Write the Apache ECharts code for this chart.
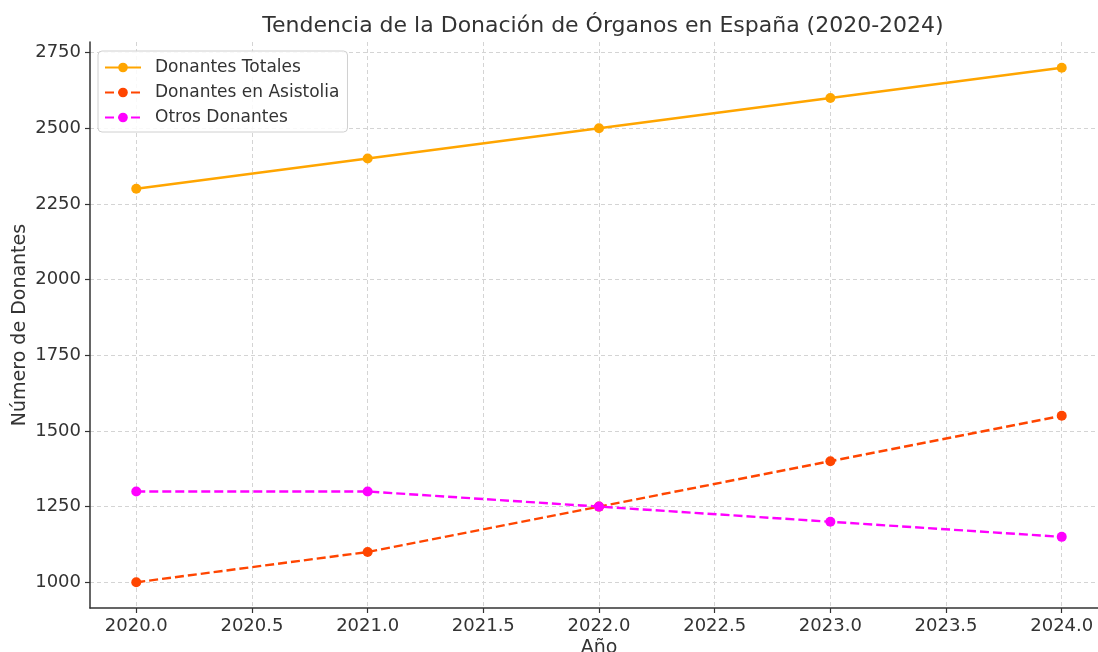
<!DOCTYPE html>
<html>
<head>
<meta charset="utf-8">
<script src="https://cdn.jsdelivr.net/npm/echarts@6/dist/echarts.min.js"></script>
<style>
html,body{margin:0;padding:0;background:#fff;}
#main{width:1098px;height:652px;}
</style>
</head>
<body>
<div id="main"></div>
<script>
const years = [2020, 2021, 2022, 2023, 2024];
const totales = [2300, 2400, 2500, 2600, 2700];
const asistolia = [1000, 1100, 1250, 1400, 1550];
const otros = [1300, 1300, 1250, 1200, 1150];
const xTicks = [2020.0, 2020.5, 2021.0, 2021.5, 2022.0, 2022.5, 2023.0, 2023.5, 2024.0];
const yTicks = [1000, 1250, 1500, 1750, 2000, 2250, 2500, 2750];
const seriesNames = ['Donantes Totales', 'Donantes en Asistolia', 'Otros Donantes'];

const font = 'DejaVu Sans';
const txt = '#333333';
const pairs = arr => years.map((y, i) => [y, arr[i]]);

const chart = echarts.init(document.getElementById('main'), null, {renderer: 'canvas'});
chart.setOption({
  animation: false,
  backgroundColor: '#ffffff',
  textStyle: {fontFamily: font, color: txt},
  title: {
    text: 'Tendencia de la Donación de Órganos en España (2020-2024)',
    left: 598, top: 10, textAlign: 'center',
    textStyle: {fontFamily: font, fontSize: 22, fontWeight: 'normal', color: txt}
  },
  legend: {
    orient: 'vertical', left: 98, top: 51,
    itemWidth: 36, itemHeight: 12, itemGap: 8,
    padding: [8, 8, 6, 6],
    borderColor: '#d0d0d0', borderWidth: 1, borderRadius: 4,
    backgroundColor: 'rgba(255,255,255,0.85)',
    textStyle: {fontFamily: font, fontSize: 17, color: txt, padding: [0, 0, 0, 9]},
    data: seriesNames
  },
  grid: {left: 90, top: 42, right: -10, bottom: 44, containLabel: false, outerBoundsMode: 'none'},
  xAxis: {
    type: 'value', min: 2019.8, max: 2024.2,
    name: 'Año', nameLocation: 'middle', nameGap: 31, nameMoveOverlap: false,
    nameTextStyle: {fontFamily: font, fontSize: 19, color: txt},
    axisLine: {show: true, lineStyle: {color: '#333', width: 1.5}},
    axisTick: {show: true, length: 5, customValues: xTicks, lineStyle: {color: '#333', width: 1.2}},
    axisLabel: {customValues: xTicks, formatter: v => v.toFixed(1), fontFamily: font, fontSize: 18, color: txt, margin: 9},
    splitLine: {show: true, lineStyle: {color: '#d4d4d4', type: [4, 3], width: 1}}
  },
  yAxis: {
    type: 'value', min: 915, max: 2785,
    name: 'Número de Donantes', nameLocation: 'middle', nameGap: 60, nameMoveOverlap: false,
    nameTextStyle: {fontFamily: font, fontSize: 19, color: txt},
    axisLine: {show: true, lineStyle: {color: '#333', width: 1.5}},
    axisTick: {show: true, length: 5, customValues: yTicks, lineStyle: {color: '#333', width: 1.2}},
    axisLabel: {customValues: yTicks, formatter: v => String(v), fontFamily: font, fontSize: 18, color: txt, margin: 9},
    splitLine: {show: true, lineStyle: {color: '#d4d4d4', type: [4, 3], width: 1}}
  },
  series: [
    {name: seriesNames[0], type: 'line', data: pairs(totales), color: '#FFA500',
     symbol: 'circle', symbolSize: 10, lineStyle: {width: 2.4, type: 'solid'}},
    {name: seriesNames[1], type: 'line', data: pairs(asistolia), color: '#FF4500',
     symbol: 'circle', symbolSize: 10, lineStyle: {width: 2.4, type: [9, 4]}},
    {name: seriesNames[2], type: 'line', data: pairs(otros), color: '#FF00FF',
     symbol: 'circle', symbolSize: 10, lineStyle: {width: 2.4, type: [9, 4]}}
  ]
});
</script>
</body>
</html>
